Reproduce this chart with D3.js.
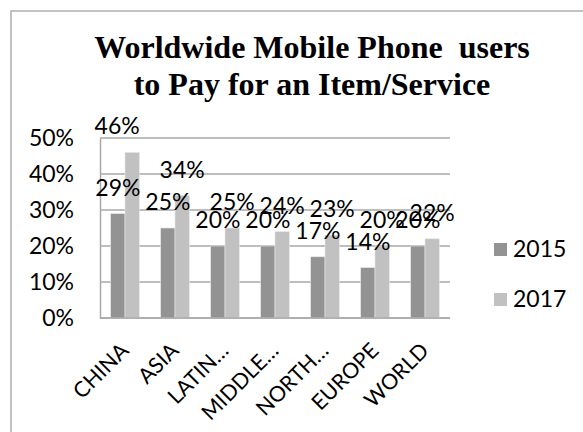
<!DOCTYPE html>
<meta charset="utf-8">
<head>
<style>
  body { margin: 0; background: #fff; }
  svg text { font-family: Lato, "Open Sans", sans-serif; fill: #000; }
  .title { font-family: "Liberation Serif", "Times New Roman", serif; font-weight: bold; }
</style>
</head>
<body>
  <script src="https://d3js.org/d3.v7.min.js"></script>
  <script>
    // chart data
    var categories = ["CHINA", "ASIA", "LATIN…", "MIDDLE…", "NORTH…", "EUROPE", "WORLD"];
    var seriesNames = ["2015", "2017"];
    var values2015 = [0.29, 0.25, 0.20, 0.20, 0.17, 0.14, 0.20];
    var values2017 = [0.46, 0.34, 0.25, 0.24, 0.23, 0.20, 0.22];
    var yTicks = [0, 0.1, 0.2, 0.3, 0.4, 0.5];
    var titleLines = ["Worldwide Mobile Phone\u00a0 users", "to Pay for an Item/Service"];

    var seriesValues = [values2015, values2017];
    var colors = ["#939393", "#c1c1c1"];

    var width = 583, height = 432;
    var plot = { left: 100, right: 450, top: 138, bottom: 318 };

    var svg = d3.select("body")
      .append("svg")
      .attr("width", width)
      .attr("height", height);

    // outer chart frame (runs off the right and bottom edges)
    svg.append("rect")
      .attr("x", 11)
      .attr("y", 11)
      .attr("width", 640)
      .attr("height", 500)
      .style("fill", "none")
      .style("stroke", "#a3a3a3")
      .style("stroke-width", 1.3);

    // title
    svg.append("g")
      .selectAll("text")
      .data(titleLines)
      .enter().append("text")
      .attr("class", "title")
      .attr("x", 312)
      .attr("y", function (d, i) { return 58 + i * 37; })
      .attr("text-anchor", "middle")
      .style("font-size", "32px")
      .text(function (d) { return d; });

    var x0 = d3.scaleBand()
      .domain(categories)
      .range([plot.left, plot.right])
      .paddingInner(0.428)
      .paddingOuter(0.214);

    var x1 = d3.scaleBand()
      .domain(seriesNames)
      .range([0, x0.bandwidth()]);

    var y = d3.scaleLinear()
      .domain([0, 0.5])
      .range([plot.bottom, plot.top]);

    var pct = d3.format(".0%");

    // gridlines
    svg.append("g")
      .selectAll("line")
      .data(yTicks)
      .enter().append("line")
      .attr("x1", plot.left)
      .attr("x2", plot.right)
      .attr("y1", function (d) { return y(d); })
      .attr("y2", function (d) { return y(d); })
      .style("stroke", "#a8a8a8")
      .style("stroke-width", 1.5);

    // y axis
    var yAxis = svg.append("g")
      .attr("transform", "translate(" + plot.left + ",0)")
      .call(d3.axisLeft(y).tickValues(yTicks).tickFormat(pct).tickSize(0).tickPadding(26));
    yAxis.select(".domain").style("stroke", "#a8a8a8").style("stroke-width", 1.5);
    yAxis.selectAll("text").style("font-size", "23px").attr("font-family", null);

    // bars
    var groups = svg.append("g")
      .selectAll("g")
      .data(categories)
      .enter().append("g")
      .attr("transform", function (d) { return "translate(" + x0(d) + ",0)"; });

    groups.selectAll("rect")
      .data(function (d, i) {
        return seriesNames.map(function (s, j) { return { cat: d, series: s, value: seriesValues[j][i], j: j }; });
      })
      .enter().append("rect")
      .attr("x", function (d) { return x1(d.series); })
      .attr("width", x1.bandwidth())
      .attr("y", function (d) { return y(d.value); })
      .attr("height", function (d) { return y(0) - y(d.value); })
      .style("fill", function (d) { return colors[d.j]; })
      .style("stroke", "#e6e6e6")
      .style("stroke-width", 0.6);

    // bottom axis line
    svg.append("line")
      .attr("x1", plot.left)
      .attr("x2", plot.right)
      .attr("y1", y(0))
      .attr("y2", y(0))
      .style("stroke", "#a8a8a8")
      .style("stroke-width", 1.5);

    // data labels (the top China label sits a little left, as in the original)
    var labelNudge = { "CHINA|2017": -15 };
    groups.selectAll("text.lbl")
      .data(function (d, i) {
        return seriesNames.map(function (s, j) { return { cat: d, series: s, value: seriesValues[j][i] }; });
      })
      .enter().append("text")
      .attr("class", "lbl")
      .attr("x", function (d) { return x1(d.series) + x1.bandwidth() / 2 + (labelNudge[d.cat + "|" + d.series] || 0); })
      .attr("y", function (d) { return y(d.value) - 18; })
      .attr("text-anchor", "middle")
      .style("font-size", "23px")
      .text(function (d) { return pct(d.value); });

    // category labels
    svg.append("g")
      .selectAll("text")
      .data(categories)
      .enter().append("text")
      .attr("transform", function (d) {
        return "translate(" + (x0(d) + x0.bandwidth() / 2 + 5) + ",352) rotate(-45)";
      })
      .attr("text-anchor", "end")
      .style("font-size", "21.5px")
      .text(function (d) { return d; });

    // legend
    var legend = svg.append("g")
      .selectAll("g")
      .data(seriesNames)
      .enter().append("g")
      .attr("transform", function (d, i) { return "translate(494," + (243 + i * 50) + ")"; });

    legend.append("rect")
      .attr("width", 13)
      .attr("height", 13)
      .style("fill", function (d, i) { return colors[i]; });

    legend.append("text")
      .attr("x", 19)
      .attr("y", 14)
      .style("font-size", "23px")
      .text(function (d) { return d; });
  </script>
</body>
</html>
